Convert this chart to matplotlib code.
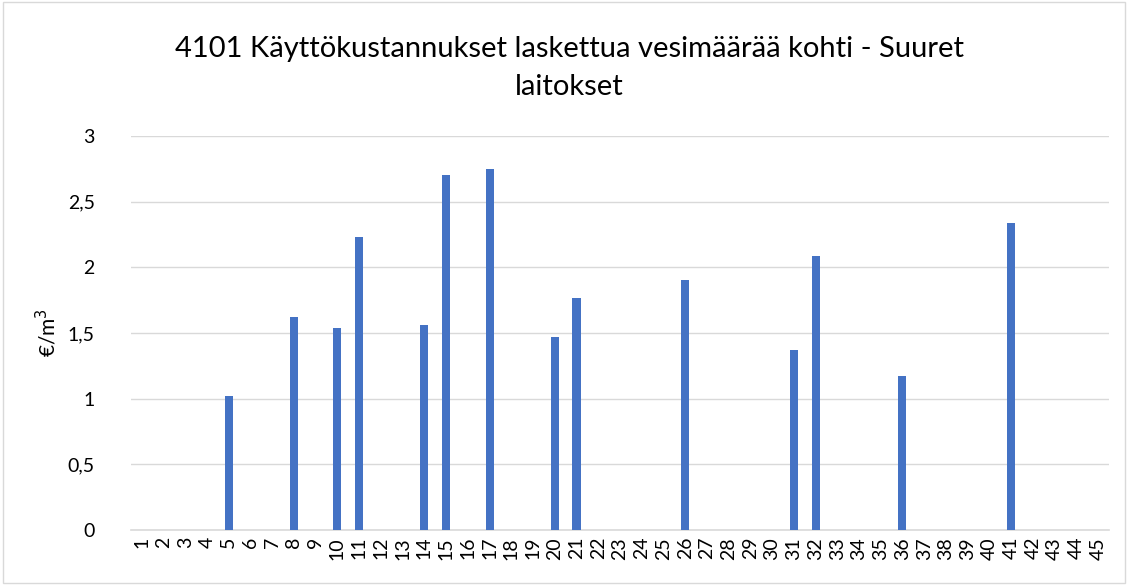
import matplotlib.pyplot as plt
from matplotlib.patches import Rectangle

plt.rcParams['font.family'] = ['Lato', 'DejaVu Sans']

# categories 1..45, only some have a value
categories = [str(i) for i in range(1, 46)]
bar_cats = [5, 8, 10, 11, 14, 15, 17, 20, 21, 26, 31, 32, 36, 41]
bar_vals = [1.02, 1.62, 1.54, 2.23, 1.56, 2.70, 2.75, 1.47, 1.77, 1.90, 1.37, 2.09, 1.17, 2.34]
y_ticks = [0, 0.5, 1, 1.5, 2, 2.5, 3]
y_tick_labels = ['0', '0,5', '1', '1,5', '2', '2,5', '3']

title = "4101 Käyttökustannukset laskettua vesimäärää kohti - Suuret\nlaitokset"

values = [0.0] * len(categories)
for c, v in zip(bar_cats, bar_vals):
    values[c - 1] = v

fig = plt.figure(figsize=(11.28, 5.85), dpi=100)
# light border around the chart area
fig.patches.append(Rectangle((0.003, 0.003), 0.994, 0.994, transform=fig.transFigure,
                             fill=False, edgecolor='#d9d9d9', linewidth=1))

ax = fig.add_axes([0.1161, 0.094, 0.867, 0.6735])
x = list(range(len(categories)))
ax.bar(x, values, width=0.37, color='#4472C4', zorder=3)

ax.set_xlim(-0.5, len(categories) - 0.5)
ax.set_ylim(0, 3)
ax.set_yticks(y_ticks)
ax.set_yticklabels(y_tick_labels)
ax.set_xticks(x)
ax.set_xticklabels(categories, rotation=90, va='top', ha='center')
ax.tick_params(axis='both', length=0, labelsize=14, colors='#000000')
ax.tick_params(axis='y', pad=26)
ax.tick_params(axis='x', pad=5)

ax.grid(axis='y', color='#d9d9d9', linewidth=1, zorder=0)
for side in ['top', 'right', 'left']:
    ax.spines[side].set_visible(False)
ax.spines['bottom'].set_color('#d9d9d9')
ax.spines['bottom'].set_linewidth(1.2)

ax.set_ylabel('€/m$^3$', fontsize=15, labelpad=6)

fig.text(0.505, 0.884, title, ha='center', va='center', fontsize=21, linespacing=1.55)

plt.savefig('out.png', dpi=100)
